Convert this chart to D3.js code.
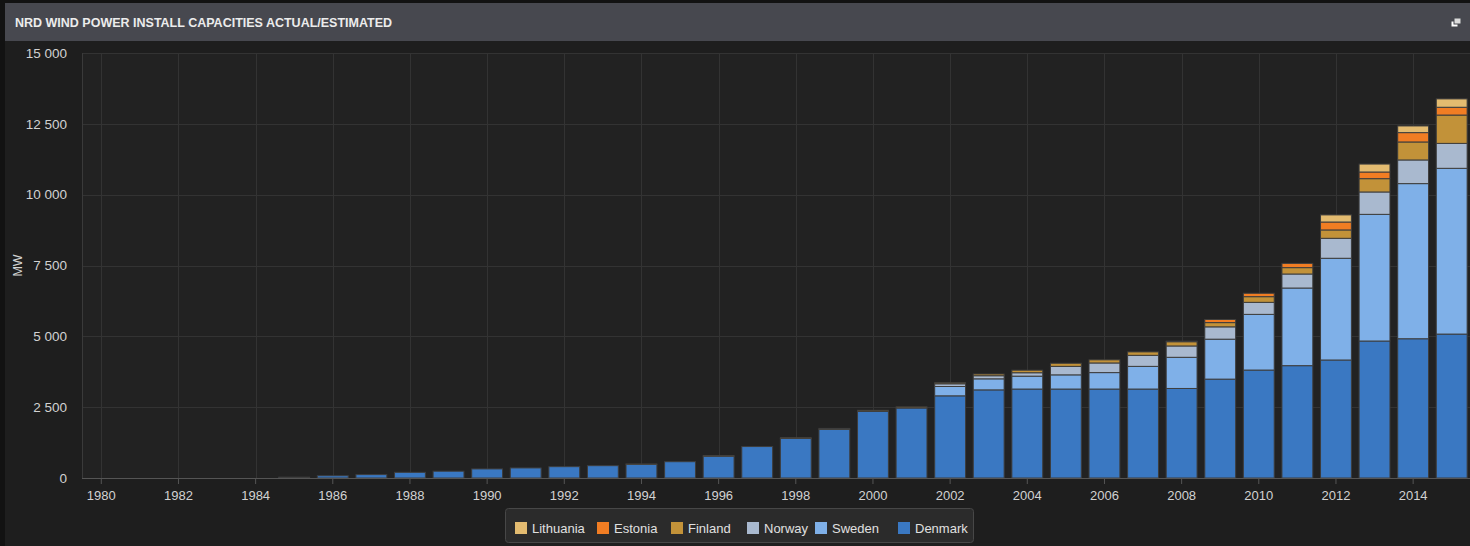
<!DOCTYPE html>
<html>
<head>
<meta charset="utf-8">
<script src="https://cdnjs.cloudflare.com/ajax/libs/d3/7.8.5/d3.min.js"></script>
<style>
  html, body { margin: 0; padding: 0; background: #121212; }
  svg { display: block; font-family: "Liberation Sans", Arial, sans-serif; }
</style>
</head>
<body>
<div id="chart"></div>
<script>
var years = d3.range(1980, 2016);

var denmark = [0, 0, 0, 0, 0, 30, 80, 120, 200, 240, 320, 355, 400, 435, 485, 575, 770, 1110, 1400, 1720, 2350, 2470,
    2900, 3110, 3140, 3140, 3140, 3140, 3160, 3490, 3810, 3965, 4165, 4835, 4915, 5080];
var sweden = [0, 0, 0, 0, 0, 0, 0, 0, 0, 0, 0, 0, 0, 0, 0, 0, 0, 0, 0, 0, 0, 0,
    330, 390, 455, 500, 580, 800, 1100, 1410, 1965, 2740, 3590, 4470, 5475, 5850];
var norway = [0, 0, 0, 0, 0, 0, 0, 0, 0, 0, 0, 0, 0, 0, 0, 0, 0, 0, 0, 0, 0, 0,
    95, 110, 120, 300, 340, 390, 400, 435, 425, 495, 705, 790, 835, 880];
var finland = [0, 0, 0, 0, 0, 0, 0, 0, 0, 0, 0, 0, 0, 0, 10, 0, 20, 0, 20, 30, 40, 40,
    40, 60, 90, 110, 110, 120, 150, 150, 200, 225, 295, 470, 635, 1000];
var estonia = [0, 0, 0, 0, 0, 0, 0, 0, 0, 0, 0, 0, 0, 0, 0, 0, 0, 0, 0, 0, 0, 0,
    0, 0, 0, 0, 0, 0, 20, 110, 120, 150, 280, 235, 330, 275];
var lithuania = [0, 0, 0, 0, 0, 0, 0, 0, 0, 0, 0, 0, 0, 0, 0, 0, 0, 0, 0, 0, 0, 0,
    0, 0, 0, 0, 0, 0, 0, 0, 0, 0, 250, 280, 235, 295];

var seriesNames = ["Denmark", "Sweden", "Norway", "Finland", "Estonia", "Lithuania"];
var seriesValues = [denmark, sweden, norway, finland, estonia, lithuania];
var seriesColors = ["#3a78c2", "#7fb0e8", "#a9b9cf", "#c29239", "#f17d23", "#e3bb70"];
var legendOrder = ["Lithuania", "Estonia", "Finland", "Norway", "Sweden", "Denmark"];
var yTicks = [0, 2500, 5000, 7500, 10000, 12500, 15000];
var xTickYears = d3.range(1980, 2016, 2);

var width = 1470, height = 546;
var plotLeft = 82, plotRight = 1471, plotTop = 53, plotBottom = 478;

var svg = d3.select("#chart").append("svg")
    .attr("width", width)
    .attr("height", height);

// panel + title bar
svg.append("rect").attr("x", 5).attr("y", 3).attr("width", width - 5).attr("height", height - 3)
    .attr("fill", "#1e1e1e");
svg.append("rect").attr("x", 5).attr("y", 3).attr("width", width - 5).attr("height", 38)
    .attr("fill", "#47484f");
svg.append("text")
    .attr("x", 15).attr("y", 27)
    .attr("fill", "#ececec")
    .attr("font-size", 12.5)
    .attr("font-weight", "bold")
    .text("NRD WIND POWER INSTALL CAPACITIES ACTUAL/ESTIMATED");

// little "popout" icon on the right of the title bar
var icon = svg.append("g").attr("transform", "translate(1451,18)");
icon.append("rect").attr("x", 0).attr("y", 3).attr("width", 7).attr("height", 6)
    .attr("fill", "#fff").attr("stroke", "#47484f").attr("stroke-width", 1);
icon.append("rect").attr("x", 3).attr("y", 0).attr("width", 7).attr("height", 6)
    .attr("fill", "#dcdcdc").attr("stroke", "#47484f").attr("stroke-width", 1);

// plot area
svg.append("rect")
    .attr("x", plotLeft).attr("y", plotTop)
    .attr("width", plotRight - plotLeft).attr("height", plotBottom - plotTop)
    .attr("fill", "#222222");

var x = d3.scaleBand()
    .domain(years)
    .range([plotLeft, plotRight])
    .paddingInner(0.2)
    .paddingOuter(0.1);

var y = d3.scaleLinear()
    .domain([0, 15000])
    .range([plotBottom, plotTop]);

// grid
svg.append("g").selectAll("line").data(yTicks).enter().append("line")
    .attr("x1", plotLeft).attr("x2", plotRight)
    .attr("y1", function (d) { return Math.round(y(d)) + 0.5; })
    .attr("y2", function (d) { return Math.round(y(d)) + 0.5; })
    .attr("stroke", "#333333");
svg.append("g").selectAll("line").data(xTickYears).enter().append("line")
    .attr("x1", function (d) { return Math.round(x(d) + x.bandwidth() / 2) + 0.5; })
    .attr("x2", function (d) { return Math.round(x(d) + x.bandwidth() / 2) + 0.5; })
    .attr("y1", plotTop).attr("y2", plotBottom)
    .attr("stroke", "#333333");
svg.append("line")
    .attr("x1", plotLeft + 0.5).attr("x2", plotLeft + 0.5)
    .attr("y1", plotTop).attr("y2", plotBottom)
    .attr("stroke", "#3a3a3a");

// stacked bars
var rows = years.map(function (yr, i) {
    var row = { year: yr };
    seriesNames.forEach(function (name, k) { row[name] = seriesValues[k][i]; });
    return row;
});
var stacked = d3.stack().keys(seriesNames)(rows);

svg.append("g").selectAll("g").data(stacked).enter().append("g")
    .attr("fill", function (d, i) { return seriesColors[i]; })
    .selectAll("rect")
    .data(function (d) { return d.filter(function (p) { return p[1] - p[0] > 0; }); })
    .enter().append("rect")
    .attr("x", function (d) { return x(d.data.year); })
    .attr("width", x.bandwidth())
    .attr("y", function (d) { return y(d[1]); })
    .attr("height", function (d) { return y(d[0]) - y(d[1]); })
    .attr("stroke", "#3d3d3d")
    .attr("stroke-width", 1);

// x axis
var xAxis = d3.axisBottom(x)
    .tickValues(xTickYears)
    .tickSize(6)
    .tickPadding(7);
var gx = svg.append("g")
    .attr("transform", "translate(0," + plotBottom + ")")
    .call(xAxis);
gx.select(".domain").attr("stroke", "#555").attr("d", "M" + plotLeft + ",0.5H" + plotRight);
gx.selectAll(".tick line").attr("stroke", "#555");
gx.selectAll(".tick text").attr("fill", "#d2d2d2").attr("font-size", 13)
    .attr("font-family", "Liberation Sans, Arial, sans-serif");

// y axis labels
var fmt = function (v) { return d3.format(",")(v).replace(/,/g, " "); };
var gy = svg.append("g")
    .attr("transform", "translate(" + plotLeft + ",0)")
    .call(d3.axisLeft(y).tickValues(yTicks).tickSize(0).tickPadding(15).tickFormat(fmt));
gy.select(".domain").remove();
gy.selectAll(".tick text").attr("fill", "#d2d2d2").attr("font-size", 13.5)
    .attr("font-family", "Liberation Sans, Arial, sans-serif");

svg.append("text")
    .attr("transform", "translate(22," + ((plotTop + plotBottom) / 2) + ") rotate(-90)")
    .attr("text-anchor", "middle")
    .attr("fill", "#d2d2d2")
    .attr("font-size", 12.5)
    .text("MW");

// legend
var legend = svg.append("g").attr("transform", "translate(505,508)");
legend.append("rect")
    .attr("x", 0.5).attr("y", 0.5).attr("width", 468).attr("height", 34)
    .attr("rx", 3)
    .attr("fill", "#2b2b2b").attr("stroke", "#474747");
var legendX = [10, 92, 166, 242, 310, 393];
var item = legend.selectAll("g.item").data(legendOrder).enter().append("g")
    .attr("class", "item")
    .attr("transform", function (d, i) { return "translate(" + legendX[i] + ",14)"; });
item.append("rect")
    .attr("width", 12).attr("height", 12)
    .attr("fill", function (d) { return seriesColors[seriesNames.indexOf(d)]; });
item.append("text")
    .attr("x", 17).attr("y", 11)
    .attr("fill", "#e0e0e0")
    .attr("font-size", 13)
    .text(function (d) { return d; });
</script>
</body>
</html>
